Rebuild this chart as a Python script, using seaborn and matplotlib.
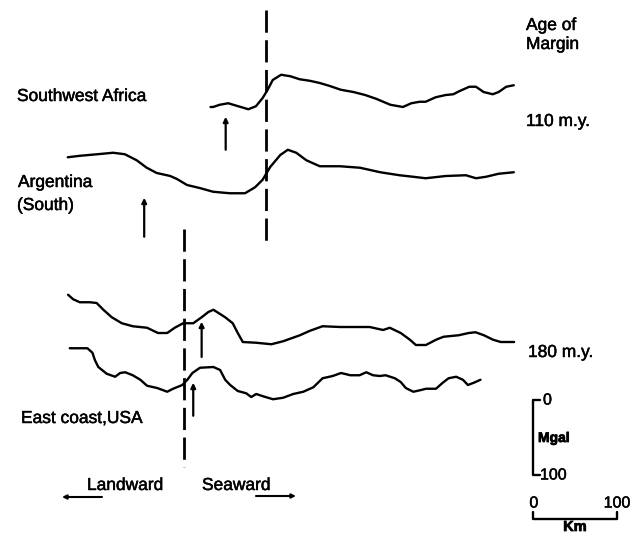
import numpy as np
import pandas as pd
import matplotlib
matplotlib.use("Agg")
import matplotlib.pyplot as plt
import matplotlib.patheffects as pe
import seaborn as sns

# ---------------------------------------------------------------------------
# Free-air gravity profiles across passive continental margins.
# Distance (km) is measured seaward from the hinge line of each margin group,
# anomaly (mGal) is relative to an arbitrary reference level for each profile.
# ---------------------------------------------------------------------------
sw_africa_km = [-66, -63, -55, -45, -33, -21, -12, -4, 2, 8, 18, 29, 40, 52, 64,
                76, 89, 104, 118, 131, 148, 163, 173, 183, 190, 202, 214, 223,
                230, 242, 250, 259, 270, 277, 286, 295]
sw_africa_mgal = [-16, -16, -13, -11, -15, -19, -15, -4, 7, 20, 27, 25, 21, 19,
                  16, 12, 7, 4, 0, -5, -13, -16, -11, -9, -9, -3, 0, 1, 5, 11,
                  11, 4, 1, 4, 11, 13]

argentina_km = [-236, -221, -201, -182, -168, -154, -142, -130, -114, -106, -94,
                -79, -63, -43, -25, -13, -4, 5, 17, 26, 36, 48, 64, 88, 112,
                136, 159, 175, 190, 214, 238, 250, 262, 277, 295]
argentina_mgal = [17, 19, 21, 23, 21, 13, 3, -4, -8, -12, -20, -24, -29, -31,
                  -31, -23, -13, 4, 20, 27, 23, 13, 5, 5, 3, -3, -7, -9, -11,
                  -8, -7, -11, -9, -5, -3]

us_east_a_km = [-138, -132, -124, -112, -104, -96, -86, -74, -61, -44, -31, -20,
                -11, -1, 11, 21, 29, 35, 49, 58, 64, 70, 86, 104, 118, 138, 150,
                165, 186, 205, 221, 237, 245, 258, 269, 276, 288, 300, 309, 327,
                339, 347, 357, 368, 377, 393]
us_east_a_mgal = [47, 41, 37, 37, 36, 27, 17, 9, 5, 3, -4, -4, 3, 9, 9, 17, 24,
                  27, 17, 9, -4, -16, -17, -19, -15, -7, -1, 5, 4, 4, 4, 0, 3,
                  -4, -13, -20, -20, -13, -9, -7, -4, -3, -7, -13, -16, -16]

us_east_b_km = [-136, -126, -115, -109, -106, -102, -92, -82, -76, -70, -61, -52,
                -44, -32, -20, -13, -2, 4, 10, 19, 35, 43, 49, 55, 64, 74, 80,
                86, 94, 106, 118, 130, 142, 154, 165, 177, 187, 198, 209, 217,
                225, 233, 240, 251, 258, 264, 273, 281, 288, 300, 308, 315, 324,
                332, 338, 345, 353]
us_east_b_mgal = [49, 49, 49, 43, 33, 24, 15, 11, 16, 17, 13, 7, -1, -4, -9, -5,
                  0, 7, 16, 23, 24, 20, 7, 0, -8, -11, -16, -12, -15, -19, -17,
                  -12, -9, -3, 9, 12, 16, 13, 13, 17, 13, 12, 13, 9, 4, -4, -9,
                  -7, -5, -5, 3, 9, 11, 7, 0, 3, 7]

# Arrowed positions along each profile (km from hinge)
marker_km = {"swa": -48, "arg": -145, "usa_a": 21, "usa_b": 11}

# Scale bar lengths
bar_km = 100
bar_mgal = 100

# ---------------------------------------------------------------------------
# Page layout (pixels on the 638 x 539 sheet)
# ---------------------------------------------------------------------------
W, H = 638, 539
KM_PER_PX = 100 / 84
MGAL_PER_PX = 100 / 75


def X(px):
    return px * KM_PER_PX


def Y(py):
    return -py * MGAL_PER_PX


# hinge column (px) and reference level (px) of each profile
layout = {
    "swa": (266, 95),
    "arg": (266, 170),
    "usa_a": (184, 330),
    "usa_b": (184, 385),
}
# arrow head / tail heights in mGal relative to the profile reference level
arrow_span = {"swa": (-29, -73), "arg": (-37, -89),
              "usa_a": (11, -36), "usa_b": (3, -41)}

profiles = {
    "swa": (sw_africa_km, sw_africa_mgal),
    "arg": (argentina_km, argentina_mgal),
    "usa_a": (us_east_a_km, us_east_a_mgal),
    "usa_b": (us_east_b_km, us_east_b_mgal),
}

frames = []
for name, (km, mgal) in profiles.items():
    hx, by = layout[name]
    frames.append(pd.DataFrame({
        "profile": name,
        "x": X(hx) + np.asarray(km, float),
        "y": Y(by) + np.asarray(mgal, float),
    }))
df = pd.concat(frames, ignore_index=True)

sns.set_theme(style="white")
plt.rcParams["font.family"] = ["Liberation Sans", "DejaVu Sans"]

fig = plt.figure(figsize=(W / 100, H / 100), dpi=100)
ax = fig.add_axes([0, 0, 1, 1])
ax.set_xlim(0, X(W))
ax.set_ylim(Y(H), 0)
ax.axis("off")

sns.lineplot(data=df, x="x", y="y", units="profile", estimator=None,
             sort=False, color="black", linewidth=1.7, ax=ax, legend=False,
             solid_joinstyle="round", solid_capstyle="round")

# hinge lines
dash = (0, (8, 2.7))
ax.plot([X(266), X(266)], [Y(10), Y(242)], color="black", lw=2.0, ls=dash)
ax.plot([X(184), X(184)], [Y(229), Y(467)], color="black", lw=2.0, ls=dash)

# arrows beneath the profiles
for name, km in marker_km.items():
    hx, by = layout[name]
    head, tail = arrow_span[name]
    x = X(hx) + km
    ax.annotate("", xy=(x, Y(by) + head), xytext=(x, Y(by) + tail),
                arrowprops=dict(arrowstyle="-|>", color="black", lw=1.6,
                                mutation_scale=7, shrinkA=0, shrinkB=0))

# lettering is a touch heavier than a regular weight
heavy = [pe.withStroke(linewidth=0.35, foreground="black")]
bolder = [pe.withStroke(linewidth=0.55, foreground="black")]
txt = dict(color="black", fontsize=12.5, va="baseline", ha="left",
           path_effects=heavy)
ax.text(X(526), Y(30), "Age of", **txt)
ax.text(X(526), Y(49), "Margin", **txt)
ax.text(X(526), Y(126), "110 m.y.", **txt)
ax.text(X(528), Y(357), "180 m.y.", **txt)
ax.text(X(17), Y(101), "Southwest Africa", **txt)
ax.text(X(18), Y(187), "Argentina", **txt)
ax.text(X(17), Y(210), "(South)", **txt)
ax.text(X(21), Y(423), "East coast,USA", **txt)
ax.text(X(87), Y(490), "Landward", **txt)
ax.text(X(202), Y(490), "Seaward", **txt)

# direction arrows
ax.annotate("", xy=(X(62), Y(497)), xytext=(X(102), Y(497)),
            arrowprops=dict(arrowstyle="-|>", color="black", lw=1.5,
                            mutation_scale=6, shrinkA=0, shrinkB=0))
ax.annotate("", xy=(X(296), Y(496)), xytext=(X(256), Y(496)),
            arrowprops=dict(arrowstyle="-|>", color="black", lw=1.5,
                            mutation_scale=6, shrinkA=0, shrinkB=0))

# vertical scale bar (mGal)
sx, sy = X(533), Y(400)
tick = 7 * KM_PER_PX
ax.plot([sx + tick, sx, sx, sx + tick], [sy, sy, sy - bar_mgal, sy - bar_mgal],
        color="black", lw=1.7)
small = dict(color="black", fontsize=11.5, va="center", path_effects=heavy)
ax.text(X(543), sy, "0", ha="left", **small)
ax.text(X(538), Y(438), "Mgal", fontsize=10, fontweight="bold",
        va="center", ha="left", color="black", path_effects=bolder)
ax.text(X(540), sy - bar_mgal, "100", ha="left", **small)

# horizontal scale bar (km)
kx, ky = X(533), Y(519)
up = 7 * MGAL_PER_PX
ax.plot([kx, kx, kx + bar_km, kx + bar_km], [ky + up, ky, ky, ky + up],
        color="black", lw=1.7)
ax.text(kx + 1, Y(503), "0", ha="center", **small)
ax.text(kx + bar_km, Y(503), "100", ha="center", **small)
ax.text(kx + bar_km / 2, Y(527), "Km", fontsize=10.5, fontweight="bold",
        va="center", ha="center", color="black", path_effects=bolder)

fig.savefig("out.png", dpi=100, facecolor="white")
